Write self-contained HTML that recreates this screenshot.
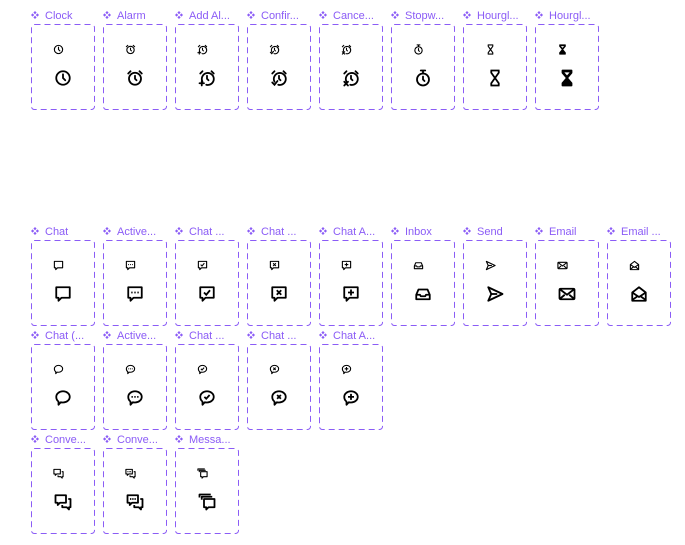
<!DOCTYPE html>
<html><head><meta charset="utf-8"><style>
html,body{margin:0;padding:0;background:#fff;width:685px;height:545px;overflow:hidden}
svg text{font-family:"Liberation Sans",sans-serif;font-size:11px;fill:#8b5cf6}
</style></head><body>
<svg width="685" height="545" viewBox="0 0 685 545" xmlns="http://www.w3.org/2000/svg">
<defs>
<symbol id="clock" viewBox="0 0 24 24"><g fill="none" stroke="#000" stroke-width="2.4" stroke-linecap="round"><circle cx="12" cy="12" r="9"/><path d="M12 7v5l3 3"/></g></symbol>
<symbol id="alarm" viewBox="0 0 24 24"><g fill="none" stroke="#000" stroke-width="2.4" stroke-linecap="round"><circle cx="12" cy="13" r="8"/><path d="M12 9v4l2 2M6 3L3 6M18 3l3 3"/></g></symbol>
<symbol id="addalarm" viewBox="0 0 24 24"><g fill="none" stroke="#000" stroke-width="2.4" stroke-linecap="round"><path d="M6 17A8 8 0 1 1 11 21"/><path d="M12 9v4l2 2M6 3L3 6M18 3l3 3M5 16v6M2 19h6"/></g></symbol>
<symbol id="confalarm" viewBox="0 0 24 24"><g fill="none" stroke="#000" stroke-width="2.4" stroke-linecap="round"><path d="M6 17A8 8 0 1 1 11 21"/><path d="M12 9v4l2 2M6 3L3 6M18 3l3 3M3 18l3 3 4-5"/></g></symbol>
<symbol id="cancalarm" viewBox="0 0 24 24"><g fill="none" stroke="#000" stroke-width="2.4" stroke-linecap="round"><path d="M6 17A8 8 0 1 1 11 21"/><path d="M12 9v4l2 2M6 3L3 6M18 3l3 3M3 17l5 5M8 17l-5 5"/></g></symbol>
<symbol id="stop" viewBox="0 0 24 24"><g fill="none" stroke="#000" stroke-width="2.4" stroke-linecap="round"><circle cx="12" cy="14" r="8"/><path d="M12 10v4l2 2M9 2h6M12 2v4"/></g></symbol>
<symbol id="hour" viewBox="0 0 24 24"><g fill="none" stroke="#000" stroke-width="2.4" stroke-linejoin="round"><path d="M6 2h12M6 22h12M7 2v3l5 7 5-7V2M7 22v-3l5-7 5 7v3"/></g></symbol>
<symbol id="hourf" viewBox="0 0 24 24"><g stroke="#000" stroke-width="2.4" stroke-linejoin="round"><path d="M6 2h12v3l-6 7-6-7z" fill="#000"/><path d="M6 22h12v-3l-6-7-6 7z" fill="#000"/></g><path d="M8.5 4.5h7l-3.5 4z" fill="#fff"/></symbol>
<symbol id="chat" viewBox="0 0 24 24"><path d="M3 3h18v14H10l-4 4v-4H3z" fill="none" stroke="#000" stroke-width="2.4" stroke-linejoin="round"/></symbol>
<symbol id="chatdots" viewBox="0 0 24 24"><use href="#chat"/><path d="M7 10h1.8M11.1 10h1.8M15.2 10h1.8" stroke="#000" stroke-width="2.4"/></symbol>
<symbol id="chatcheck" viewBox="0 0 24 24"><use href="#chat"/><path d="M8 10l3 3 5-6" fill="none" stroke="#000" stroke-width="2.4"/></symbol>
<symbol id="chatx" viewBox="0 0 24 24"><use href="#chat"/><path d="M9 7l6 6M15 7l-6 6" fill="none" stroke="#000" stroke-width="2.4"/></symbol>
<symbol id="chatplus" viewBox="0 0 24 24"><use href="#chat"/><path d="M12 6v8M8 10h8" fill="none" stroke="#000" stroke-width="2.4"/></symbol>
<symbol id="inbox" viewBox="0 0 24 24"><g fill="none" stroke="#000" stroke-width="2.4" stroke-linejoin="round"><path d="M3 13l3-7h12l3 7v6H3z"/><path d="M3 13h5l1 2h6l1-2h5"/></g></symbol>
<symbol id="send" viewBox="0 0 24 24"><g fill="none" stroke="#000" stroke-width="2.4" stroke-linejoin="round"><path d="M3 3l19 9-19 9 4-9z"/><path d="M7 12h8"/></g></symbol>
<symbol id="email" viewBox="0 0 24 24"><g fill="none" stroke="#000" stroke-width="2.4" stroke-linejoin="round"><rect x="2" y="5" width="20" height="14" rx="1.5"/><path d="M3 6l9 7 9-7M3 18l6-5M21 18l-6-5"/></g></symbol>
<symbol id="emailo" viewBox="0 0 24 24"><g fill="none" stroke="#000" stroke-width="2.4" stroke-linejoin="round"><path d="M3 10l9-7 9 7v11H3z"/><path d="M3 10l9 6 9-6M3 20l7-5M21 20l-7-5"/></g></symbol>
<symbol id="rchat" viewBox="0 0 24 24"><path d="M12 3c5 0 9 3.4 9 7.5S17 18 12 18c-1 0-2 0-3-.3L6 21v-4.2C4.2 15.4 3 13 3 10.5 3 6.4 7 3 12 3z" fill="none" stroke="#000" stroke-width="2.4" stroke-linejoin="round"/></symbol>
<symbol id="rchatdots" viewBox="0 0 24 24"><use href="#rchat"/><path d="M7.3 10.5h1.8M11.1 10.5h1.8M14.9 10.5h1.8" stroke="#000" stroke-width="2.4"/></symbol>
<symbol id="rchatcheck" viewBox="0 0 24 24"><use href="#rchat"/><path d="M8.5 10.5l2.5 2.5 4.5-5" fill="none" stroke="#000" stroke-width="2.4"/></symbol>
<symbol id="rchatx" viewBox="0 0 24 24"><use href="#rchat"/><path d="M9.5 8l5 5M14.5 8l-5 5" fill="none" stroke="#000" stroke-width="2.4"/></symbol>
<symbol id="rchatplus" viewBox="0 0 24 24"><use href="#rchat"/><path d="M12 6.5v8M8 10.5h8" fill="none" stroke="#000" stroke-width="2.4"/></symbol>
<symbol id="conv" viewBox="0 0 24 24"><g fill="none" stroke="#000" stroke-width="2.4" stroke-linejoin="round"><path d="M2 3h14v10H8l-3 3v-3H2z"/><path d="M19 8h3v11h-2v3l-3-3h-6v-3"/></g></symbol>
<symbol id="convdots" viewBox="0 0 24 24"><use href="#conv"/><path d="M5.3 8h1.8M8.3 8h1.8M11.3 8h1.8" stroke="#000" stroke-width="2.4"/></symbol>
<symbol id="mess" viewBox="0 0 24 24"><g fill="none" stroke="#000" stroke-width="2.4" stroke-linejoin="round"><path d="M2 6V2h15"/><path d="M5 9V5h14"/><path d="M8 8h14v11h-8l-3 3v-3H8z"/></g></symbol>
<g id="card"><rect x="0.5" y="0.5" width="63" height="85" rx="3" fill="none" stroke="#8b5cf6" stroke-width="1" stroke-dasharray="6 4"/></g>
<path id="dia" d="M4 0l1.6 1.6L4 3.2 2.4 1.6zM1.6 2.4L3.2 4 1.6 5.6 0 4zM6.4 2.4L8 4 6.4 5.6 4.8 4zM4 4.8l1.6 1.6L4 8 2.4 6.4z" fill="#8b5cf6"/>
</defs>

<g transform="translate(31,24)"><use href="#card"/><use href="#clock" x="22" y="20" width="11" height="11"/><use href="#clock" x="23" y="45" width="18" height="18"/></g>
<g transform="translate(103,24)"><use href="#card"/><use href="#alarm" x="22" y="20" width="11" height="11"/><use href="#alarm" x="23" y="45" width="18" height="18"/></g>
<g transform="translate(175,24)"><use href="#card"/><use href="#addalarm" x="22" y="20" width="11" height="11"/><use href="#addalarm" x="23" y="45" width="18" height="18"/></g>
<g transform="translate(247,24)"><use href="#card"/><use href="#confalarm" x="22" y="20" width="11" height="11"/><use href="#confalarm" x="23" y="45" width="18" height="18"/></g>
<g transform="translate(319,24)"><use href="#card"/><use href="#cancalarm" x="22" y="20" width="11" height="11"/><use href="#cancalarm" x="23" y="45" width="18" height="18"/></g>
<g transform="translate(391,24)"><use href="#card"/><use href="#stop" x="22" y="20" width="11" height="11"/><use href="#stop" x="23" y="45" width="18" height="18"/></g>
<g transform="translate(463,24)"><use href="#card"/><use href="#hour" x="22" y="20" width="11" height="11"/><use href="#hour" x="23" y="45" width="18" height="18"/></g>
<g transform="translate(535,24)"><use href="#card"/><use href="#hourf" x="22" y="20" width="11" height="11"/><use href="#hourf" x="23" y="45" width="18" height="18"/></g>

<g transform="translate(31,240)"><use href="#card"/><use href="#chat" x="22" y="20" width="11" height="11"/><use href="#chat" x="23" y="45" width="18" height="18"/></g>
<g transform="translate(103,240)"><use href="#card"/><use href="#chatdots" x="22" y="20" width="11" height="11"/><use href="#chatdots" x="23" y="45" width="18" height="18"/></g>
<g transform="translate(175,240)"><use href="#card"/><use href="#chatcheck" x="22" y="20" width="11" height="11"/><use href="#chatcheck" x="23" y="45" width="18" height="18"/></g>
<g transform="translate(247,240)"><use href="#card"/><use href="#chatx" x="22" y="20" width="11" height="11"/><use href="#chatx" x="23" y="45" width="18" height="18"/></g>
<g transform="translate(319,240)"><use href="#card"/><use href="#chatplus" x="22" y="20" width="11" height="11"/><use href="#chatplus" x="23" y="45" width="18" height="18"/></g>
<g transform="translate(391,240)"><use href="#card"/><use href="#inbox" x="22" y="20" width="11" height="11"/><use href="#inbox" x="23" y="45" width="18" height="18"/></g>
<g transform="translate(463,240)"><use href="#card"/><use href="#send" x="22" y="20" width="11" height="11"/><use href="#send" x="23" y="45" width="18" height="18"/></g>
<g transform="translate(535,240)"><use href="#card"/><use href="#email" x="22" y="20" width="11" height="11"/><use href="#email" x="23" y="45" width="18" height="18"/></g>
<g transform="translate(607,240)"><use href="#card"/><use href="#emailo" x="22" y="20" width="11" height="11"/><use href="#emailo" x="23" y="45" width="18" height="18"/></g>

<g transform="translate(31,344)"><use href="#card"/><use href="#rchat" x="22" y="20" width="11" height="11"/><use href="#rchat" x="23" y="45" width="18" height="18"/></g>
<g transform="translate(103,344)"><use href="#card"/><use href="#rchatdots" x="22" y="20" width="11" height="11"/><use href="#rchatdots" x="23" y="45" width="18" height="18"/></g>
<g transform="translate(175,344)"><use href="#card"/><use href="#rchatcheck" x="22" y="20" width="11" height="11"/><use href="#rchatcheck" x="23" y="45" width="18" height="18"/></g>
<g transform="translate(247,344)"><use href="#card"/><use href="#rchatx" x="22" y="20" width="11" height="11"/><use href="#rchatx" x="23" y="45" width="18" height="18"/></g>
<g transform="translate(319,344)"><use href="#card"/><use href="#rchatplus" x="22" y="20" width="11" height="11"/><use href="#rchatplus" x="23" y="45" width="18" height="18"/></g>

<g transform="translate(31,448)"><use href="#card"/><use href="#conv" x="22" y="20" width="11" height="11"/><use href="#conv" x="23" y="45" width="18" height="18"/></g>
<g transform="translate(103,448)"><use href="#card"/><use href="#convdots" x="22" y="20" width="11" height="11"/><use href="#convdots" x="23" y="45" width="18" height="18"/></g>
<g transform="translate(175,448)"><use href="#card"/><use href="#mess" x="22" y="20" width="11" height="11"/><use href="#mess" x="23" y="45" width="18" height="18"/></g>

<g>
<use href="#dia" x="31" y="11"/><text x="45" y="19">Clock</text>
<use href="#dia" x="103" y="11"/><text x="117" y="19">Alarm</text>
<use href="#dia" x="175" y="11"/><text x="189" y="19">Add Al...</text>
<use href="#dia" x="247" y="11"/><text x="261" y="19">Confir...</text>
<use href="#dia" x="319" y="11"/><text x="333" y="19">Cance...</text>
<use href="#dia" x="391" y="11"/><text x="405" y="19">Stopw...</text>
<use href="#dia" x="463" y="11"/><text x="477" y="19">Hourgl...</text>
<use href="#dia" x="535" y="11"/><text x="549" y="19">Hourgl...</text>

<use href="#dia" x="31" y="227"/><text x="45" y="235">Chat</text>
<use href="#dia" x="103" y="227"/><text x="117" y="235">Active...</text>
<use href="#dia" x="175" y="227"/><text x="189" y="235">Chat ...</text>
<use href="#dia" x="247" y="227"/><text x="261" y="235">Chat ...</text>
<use href="#dia" x="319" y="227"/><text x="333" y="235">Chat A...</text>
<use href="#dia" x="391" y="227"/><text x="405" y="235">Inbox</text>
<use href="#dia" x="463" y="227"/><text x="477" y="235">Send</text>
<use href="#dia" x="535" y="227"/><text x="549" y="235">Email</text>
<use href="#dia" x="607" y="227"/><text x="621" y="235">Email ...</text>

<use href="#dia" x="31" y="331"/><text x="45" y="339">Chat (...</text>
<use href="#dia" x="103" y="331"/><text x="117" y="339">Active...</text>
<use href="#dia" x="175" y="331"/><text x="189" y="339">Chat ...</text>
<use href="#dia" x="247" y="331"/><text x="261" y="339">Chat ...</text>
<use href="#dia" x="319" y="331"/><text x="333" y="339">Chat A...</text>

<use href="#dia" x="31" y="435"/><text x="45" y="443">Conve...</text>
<use href="#dia" x="103" y="435"/><text x="117" y="443">Conve...</text>
<use href="#dia" x="175" y="435"/><text x="189" y="443">Messa...</text>
</g>
</svg>
</body></html>
